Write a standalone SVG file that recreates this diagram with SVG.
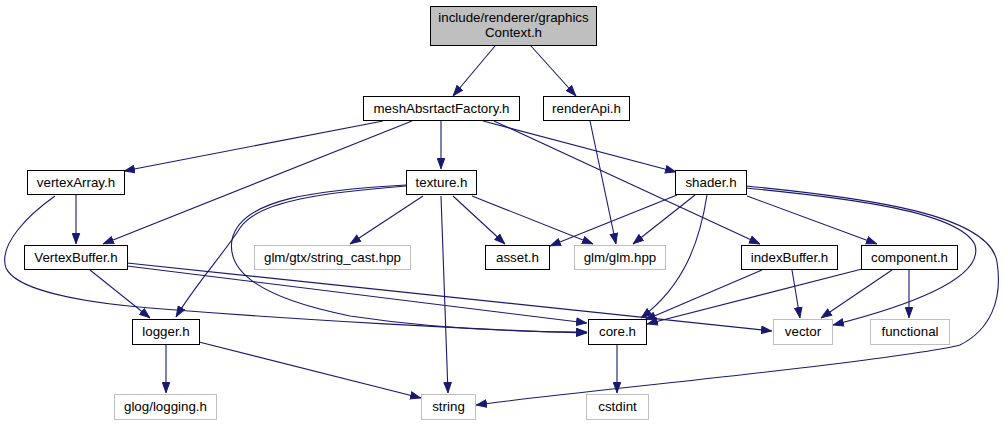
<svg xmlns="http://www.w3.org/2000/svg" width="1004" height="425" viewBox="0 0 1004 425">
<style>
.n rect{fill:#fff;stroke:#000;stroke-width:1}
.g rect{fill:#fff;stroke:#bfbfbf;stroke-width:1}
text{font-family:"Liberation Sans",Arial,sans-serif;font-size:13.33px;fill:#000;text-anchor:middle}
#edges path{fill:none;stroke:#191970;stroke-width:1.1;marker-end:url(#a)}
</style>
<defs>
<marker id="a" markerWidth="11" markerHeight="9" refX="11" refY="4.5" orient="auto" markerUnits="userSpaceOnUse">
<path d="M0.5,0.8 L10.5,4.5 L0.5,8.2 z" fill="#191970" stroke="#191970" stroke-width="1"/>
</marker>
</defs>
<rect width="1004" height="425" fill="#fff"/>
<g id="edges">
<path d="M495,46 L453,96"/>
<path d="M531,46 L576,96"/>
<path d="M383,121 L124,171"/>
<path d="M412,121 L103,244"/>
<path d="M441,121 L441,169"/>
<path d="M494,121 L760,244"/>
<path d="M483,121 L676,172"/>
<path d="M590,121 L616,244"/>
<path d="M76,195 L76,244"/>
<path d="M55,196 C28,215 -2,245 6,268 C16,290 80,302 150,308 C300,320 480,330 587,333"/>
<path d="M90,270 L150,318"/>
<path d="M127,266 L587,323"/>
<path d="M127,263 L772,331"/>
<path d="M423,196 L350,244"/>
<path d="M453,196 L505,244"/>
<path d="M472,196 L593,244"/>
<path d="M441,196 L448,393"/>
<path d="M406,186 C330,192 258,200 240,228 C225,252 195,285 176,317"/>
<path d="M406,185 C320,190 240,198 232,240 C226,275 270,300 350,316 C430,328 520,332 587,332"/>
<path d="M677,195 L550,246"/>
<path d="M695,195 L633,244"/>
<path d="M707,195 C700,240 685,285 641,318"/>
<path d="M747,196 L877,244"/>
<path d="M746,188 C850,198 960,212 975,245 C985,280 900,308 833,325"/>
<path d="M746,186 C870,198 990,215 997,262 C1003,300 990,330 960,345 C890,362 560,393 476,405"/>
<path d="M762,270 L645,320"/>
<path d="M792,270 L800,318"/>
<path d="M862,269 L647,324"/>
<path d="M892,270 L821,318"/>
<path d="M909,270 L909,318"/>
<path d="M166,344 L166,393"/>
<path d="M199,342 L421,398"/>
<path d="M617,344 L617,393"/>
</g>
<g id="root" class="n"><rect x="430.5" y="6.5" width="166" height="39" style="fill:#bfbfbf"/><text x="513.5" y="21.5">include/renderer/graphics</text><text x="513.5" y="36.5">Context.h</text></g>
<g id="meshAbsrtactFactory" class="n"><rect x="363.5" y="96.5" width="156" height="24"/><text x="441.5" y="113">meshAbsrtactFactory.h</text></g>
<g id="renderApi" class="n"><rect x="543.5" y="96.5" width="86" height="24"/><text x="586.5" y="113">renderApi.h</text></g>
<g id="vertexArray" class="n"><rect x="27.5" y="170.5" width="97" height="24"/><text x="76" y="187">vertexArray.h</text></g>
<g id="texture" class="n"><rect x="406.5" y="170.5" width="70" height="24"/><text x="441.5" y="187">texture.h</text></g>
<g id="shader" class="n"><rect x="675.5" y="170.5" width="71" height="24"/><text x="711" y="187">shader.h</text></g>
<g id="VertexBuffer" class="n"><rect x="24.5" y="245.5" width="103" height="24"/><text x="76" y="262">VertexBuffer.h</text></g>
<g id="string_cast" class="g"><rect x="254.5" y="245.5" width="156" height="24"/><text x="332.5" y="262">glm/gtx/string_cast.hpp</text></g>
<g id="asset" class="n"><rect x="485.5" y="245.5" width="64" height="24"/><text x="517.5" y="262">asset.h</text></g>
<g id="glm" class="g"><rect x="574.5" y="245.5" width="91" height="24"/><text x="620" y="262">glm/glm.hpp</text></g>
<g id="indexBuffer" class="n"><rect x="741.5" y="245.5" width="96" height="24"/><text x="789.5" y="262">indexBuffer.h</text></g>
<g id="component" class="n"><rect x="861.5" y="245.5" width="96" height="24"/><text x="909.5" y="262">component.h</text></g>
<g id="logger" class="n"><rect x="132.5" y="319.5" width="67" height="25"/><text x="166" y="336">logger.h</text></g>
<g id="core" class="n"><rect x="588.5" y="319.5" width="58" height="25"/><text x="617.5" y="336">core.h</text></g>
<g id="vector" class="g"><rect x="773.5" y="319.5" width="59" height="25"/><text x="803" y="336">vector</text></g>
<g id="functional" class="g"><rect x="870.5" y="319.5" width="79" height="25"/><text x="910" y="336">functional</text></g>
<g id="glog" class="g"><rect x="114.5" y="394.5" width="102" height="25"/><text x="165.5" y="411">glog/logging.h</text></g>
<g id="string" class="g"><rect x="421.5" y="394.5" width="54" height="25"/><text x="448.5" y="411">string</text></g>
<g id="cstdint" class="g"><rect x="586.5" y="394.5" width="62" height="25"/><text x="617.5" y="411">cstdint</text></g>
</svg>
